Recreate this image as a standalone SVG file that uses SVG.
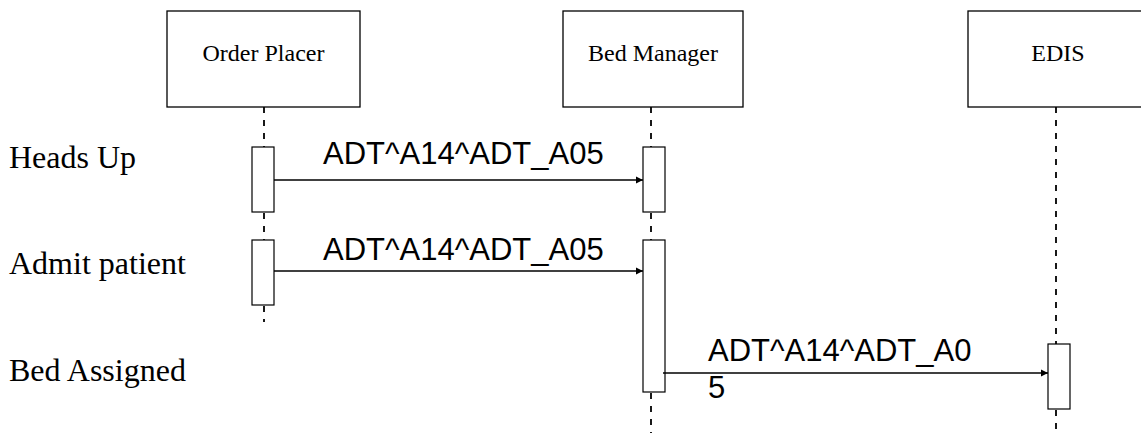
<svg xmlns="http://www.w3.org/2000/svg" width="1141" height="433" viewBox="0 0 1141 433">
<style>
.box{fill:#fff;stroke:#000;stroke-width:1.3}
.act{fill:#fff;stroke:#000;stroke-width:1.2}
.life{stroke:#000;stroke-width:1.8;stroke-dasharray:6,7;fill:none}
.msg{stroke:#000;stroke-width:1.5;fill:none;marker-end:url(#ah)}
.name{font-family:"Liberation Serif",serif;font-size:24px;text-anchor:middle;fill:#000}
.side{font-family:"Liberation Serif",serif;font-size:32px;fill:#000}
.lbl{font-family:"Liberation Sans",sans-serif;font-size:31px;fill:#000}
</style>
<defs>
<marker id="ah" markerWidth="8" markerHeight="8" refX="7" refY="4" orient="auto" markerUnits="userSpaceOnUse">
<path d="M0,0.5 L7,4 L0,7.5 Z" fill="#000"/>
</marker>
</defs>
<g id="order-placer">
<rect class="box" x="167" y="11" width="193" height="96"/>
<text class="name" x="263.5" y="61">Order Placer</text>
<path class="life" d="M264,107 V147 M264,213 V240 M264,306 V322"/>
<rect class="act" x="252" y="147" width="22" height="65"/>
<rect class="act" x="252" y="240" width="22" height="65"/>
</g>
<g id="bed-manager">
<rect class="box" x="563" y="11" width="180" height="96"/>
<text class="name" x="653" y="61">Bed Manager</text>
<path class="life" d="M651,107 V147 M651,213 V240 M651,393 V433"/>
<rect class="act" x="643" y="147" width="22" height="65"/>
<rect class="act" x="643" y="240" width="22" height="152"/>
</g>
<g id="edis">
<rect class="box" x="968" y="11" width="182" height="96"/>
<text class="name" x="1058" y="61">EDIS</text>
<path class="life" d="M1056,107 V344 M1056,410 V433"/>
<rect class="act" x="1048" y="344" width="22" height="65"/>
</g>
<g id="labels">
<text class="side" x="9" y="168">Heads Up</text>
<text class="side" x="9" y="274">Admit patient</text>
<text class="side" x="9" y="381">Bed Assigned</text>
</g>
<g id="connectors">
<line class="msg" x1="274" y1="180" x2="643" y2="180"/>
<text class="lbl" x="323" y="164">ADT^A14^ADT_A05</text>
<line class="msg" x1="274" y1="271" x2="643" y2="271"/>
<text class="lbl" x="323" y="260">ADT^A14^ADT_A05</text>
<line class="msg" x1="663" y1="373" x2="1048" y2="373"/>
<text class="lbl" x="708" y="361">ADT^A14^ADT_A0</text>
<text class="lbl" x="708" y="398">5</text>
</g>
</svg>
